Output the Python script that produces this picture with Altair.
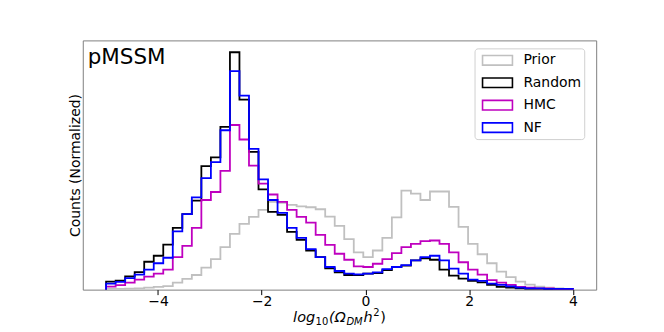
import altair as alt
import numpy as np
import pandas as pd

# bin edges: 49 bins between -5 and 4
edges = np.linspace(-5, 4, 50)

series_names = ["Prior", "Random", "HMC", "NF"]
series_colors = ["#c0c0c0", "#000000", "#bf00bf", "#0000ff"]

prior = [0.7, 0.8, 1.0, 1.3, 2.0, 2.7, 3.5, 7.0, 10.7, 14.7,
         22.0, 30.7, 42.7, 56.0, 66.0, 73.0, 80.0, 88.0, 87.0, 85.0,
         83.5, 82.7, 80.7, 73.3, 64.0, 50.7, 37.3, 32.7, 39.3, 52.0,
         72.5, 99.3, 96.3, 90.0, 98.5, 98.5, 83.0, 63.0, 46.0, 35.5,
         26.5, 18.0, 12.5, 8.0, 5.0, 3.0, 2.0, 1.3, 0.7]
random_ = [8.0, 9.0, 13.3, 17.5, 28.0, 34.0, 45.2, 62.0, 75.7, 89.3,
           124.0, 132.7, 163.3, 238.3, 190.7, 138.3, 100.7, 78.0, 75.0, 58.0,
           50.0, 39.3, 32.7, 21.3, 17.3, 14.7, 14.7, 16.0, 16.7, 19.5,
           22.7, 24.0, 29.3, 31.3, 30.0, 20.0, 14.0, 11.0, 8.7, 7.3,
           4.7, 2.7, 2.0, 1.3, 0.8, 0.7, 0.5, 0.4, 0.3]
hmc = [3.0, 4.5, 7.0, 10.0, 13.0, 16.0, 20.0, 32.7, 44.0, 62.0,
       90.0, 98.0, 119.3, 165.3, 150.7, 124.5, 106.5, 95.5, 88.0, 80.0,
       73.0, 67.3, 55.0, 45.0, 36.0, 30.0, 23.3, 22.7, 26.0, 30.7,
       36.7, 42.7, 46.0, 48.7, 49.3, 46.0, 37.5, 27.5, 20.0, 15.0,
       9.5, 7.0, 4.7, 2.7, 2.0, 1.3, 1.3, 0.7, 0.7]
nf = [6.0, 7.7, 11.5, 15.0, 20.0, 26.5, 32.0, 58.5, 75.7, 92.7,
      112.0, 128.0, 160.0, 219.3, 194.7, 141.3, 110.7, 90.0, 77.0, 62.0,
      52.0, 40.7, 32.7, 22.7, 18.7, 16.0, 15.3, 16.0, 17.3, 20.5,
      22.7, 24.7, 29.3, 32.7, 34.0, 29.3, 21.0, 16.0, 10.0, 8.7,
      6.0, 4.7, 3.3, 2.0, 1.3, 1.3, 0.7, 0.7, 0.7]

x_ticks = [-4, -2, 0, 2, 4]


def step_frame(name, values):
    xs = [edges[0]] + list(edges[:-1]) + [edges[-1], edges[-1]]
    ys = [0.0] + list(values) + [values[-1], 0.0]
    return pd.DataFrame({"x": xs, "y": ys, "series": name, "i": range(len(xs))})


all_series = [prior, random_, hmc, nf]
ymax = max(max(s) for s in all_series) * 1.05

color = alt.Color(
    "series:N",
    scale=alt.Scale(domain=series_names, range=series_colors),
    legend=alt.Legend(
        title=None,
        orient="none",
        legendX=393,
        legendY=8,
        symbolType="M-0.5,-0.6L3.25,-0.6L3.25,0.6L-0.5,0.6Z",
        symbolSize=256,
        symbolStrokeWidth=1.6,
        symbolFillColor="white",
        labelFontSize=14,
        labelFont="DejaVu Sans",
        labelColor="#000000",
        labelOffset=28,
        padding=3,
        rowPadding=5.5,
        fillColor="white",
        strokeColor="#d0d0d0",
        cornerRadius=3,
    ),
)

xscale = alt.Scale(domain=[-5.45, 4.45], nice=False, zero=False)
yscale = alt.Scale(domain=[0, ymax], nice=False)

layers = []
for name, vals in zip(series_names, all_series):
    df = step_frame(name, vals)
    layers.append(
        alt.Chart(df)
        .mark_line(interpolate="step-after", strokeWidth=1.8, clip=True)
        .encode(
            x=alt.X("x:Q", scale=xscale,
                    axis=alt.Axis(values=x_ticks, title=None, format="d",
                                  domain=False, tickSize=5, tickColor="#000",
                                  labelFontSize=14, labelFont="DejaVu Sans",
                                  labelColor="#000", labelPadding=0, grid=False)),
            y=alt.Y("y:Q", scale=yscale,
                    axis=alt.Axis(title="Counts (Normalized)", labels=False,
                                  ticks=False, domain=False, grid=False,
                                  titleFontSize=14, titleFont="DejaVu Sans",
                                  titleFontWeight="normal", titleColor="#000",
                                  titlePadding=0)),
            color=color,
            order="i:Q",
        )
    )

# annotation text
label_df = pd.DataFrame({"t": ["pMSSM"]})
pmssm = alt.Chart(label_df).mark_text(
    align="left", baseline="alphabetic", fontSize=21.5, font="DejaVu Sans", color="#000"
).encode(text="t:N", x=alt.value(5), y=alt.value(23.5))

# x-axis title pieces: log10(Omega_DM h^2)
pieces = [
    ("log", 211, 282, 14.5, "italic"),
    ("10", 233.5, 285, 10, "normal"),
    ("(Ω", 247, 282, 14.5, "italic"),
    ("DM", 264.5, 285, 10, "italic"),
    ("h", 281.5, 282, 14.5, "italic"),
    ("2", 291.5, 276, 10, "normal"),
    (")", 298.5, 282, 14.5, "normal"),
]
title_layers = []
for txt, px, py, fs, st in pieces:
    title_layers.append(
        alt.Chart(pd.DataFrame({"t": [txt]})).mark_text(
            align="left", baseline="alphabetic", fontSize=fs, font="DejaVu Sans",
            fontStyle=st, color="#000"
        ).encode(text="t:N", x=alt.value(px), y=alt.value(py))
    )

chart = alt.layer(*layers, pmssm, *title_layers).properties(
    width=515, height=250,
    autosize=alt.AutoSizeParams(type="none"),
    padding={"left": 75, "top": 32, "right": 60, "bottom": 40},
).configure(background="white").configure_view(stroke="#7f7f7f", strokeWidth=1)

chart.save("out.html", embed_options={"renderer": "svg", "actions": False})
